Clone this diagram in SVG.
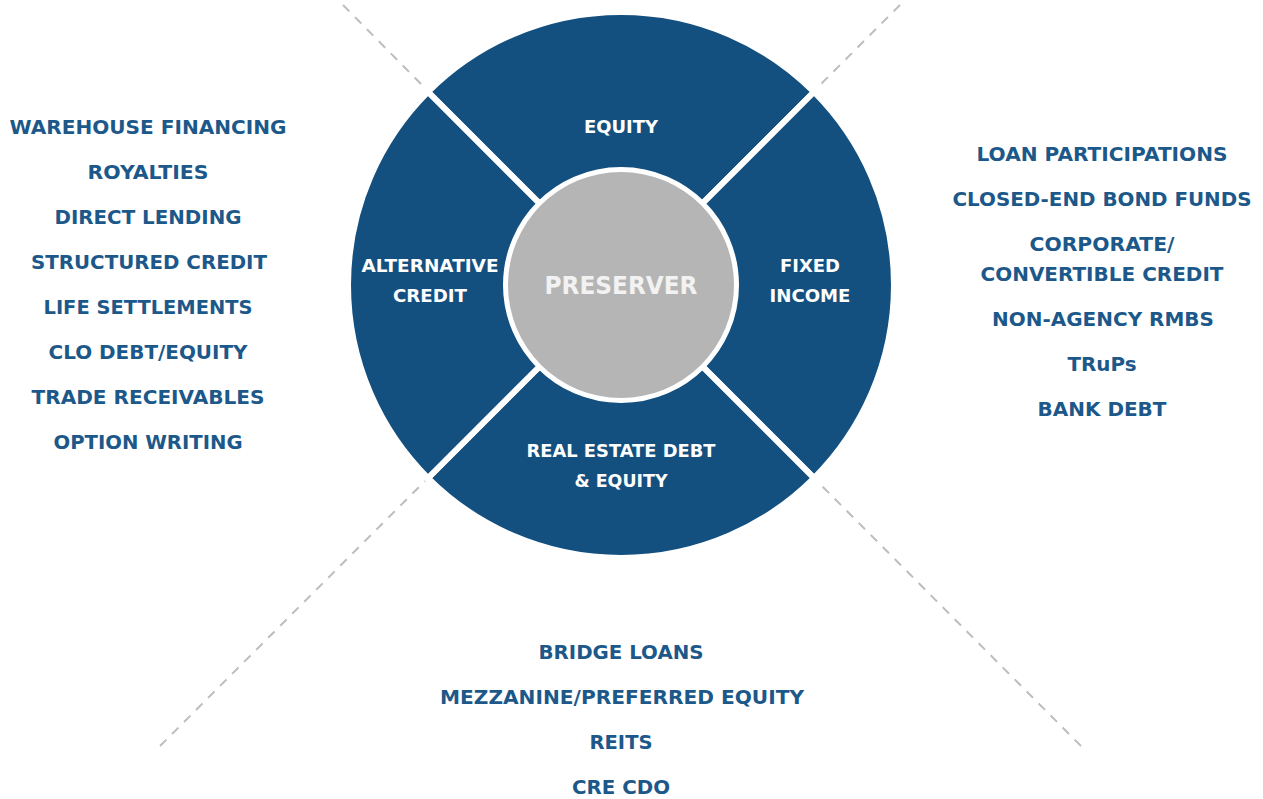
<svg xmlns="http://www.w3.org/2000/svg" width="1263" height="799" viewBox="0 0 1263 799">
<style>
.seg{fill:#14507f;stroke:#ffffff;stroke-width:6;stroke-linejoin:miter}
.in{font-family:"DejaVu Sans","Liberation Sans",sans-serif;font-weight:bold;font-size:17px;fill:#ffffff;text-anchor:middle}
.li{font-family:"DejaVu Sans","Liberation Sans",sans-serif;font-weight:bold;font-size:19.5px;fill:#1c5889;text-anchor:middle}
.dash{stroke:#bdbdbd;stroke-width:2;stroke-dasharray:9 8;fill:none}
</style>
<rect width="1263" height="799" fill="#ffffff"/>
<g id="connectors">
<line class="dash" x1="343" y1="5" x2="425" y2="88"/>
<line class="dash" x1="900" y1="5" x2="817" y2="88"/>
<line class="dash" x1="160" y1="746" x2="425" y2="481"/>
<line class="dash" x1="1081" y1="746" x2="817" y2="481"/>
</g>
<g id="equity">
<path class="seg" d="M427.96 91.96 A273 273 0 0 1 814.04 91.96 L702.32 203.68 A115 115 0 0 0 539.68 203.68 Z"/>
<text class="in" x="621" y="133" textLength="74" lengthAdjust="spacingAndGlyphs">EQUITY</text>
</g>
<g id="fixed-income">
<path class="seg" d="M814.04 91.96 A273 273 0 0 1 814.04 478.04 L702.32 366.32 A115 115 0 0 0 702.32 203.68 Z"/>
<text class="in" x="810" y="272" textLength="60" lengthAdjust="spacingAndGlyphs">FIXED</text>
<text class="in" x="810" y="302" textLength="81" lengthAdjust="spacingAndGlyphs">INCOME</text>
</g>
<g id="real-estate">
<path class="seg" d="M814.04 478.04 A273 273 0 0 1 427.96 478.04 L539.68 366.32 A115 115 0 0 0 702.32 366.32 Z"/>
<text class="in" x="621" y="457" textLength="189" lengthAdjust="spacingAndGlyphs">REAL ESTATE DEBT</text>
<text class="in" x="621" y="487" textLength="93" lengthAdjust="spacingAndGlyphs">&amp; EQUITY</text>
</g>
<g id="alternative-credit">
<path class="seg" d="M427.96 478.04 A273 273 0 0 1 427.96 91.96 L539.68 203.68 A115 115 0 0 0 539.68 366.32 Z"/>
<text class="in" x="430" y="272" textLength="137" lengthAdjust="spacingAndGlyphs">ALTERNATIVE</text>
<text class="in" x="430" y="302" textLength="74" lengthAdjust="spacingAndGlyphs">CREDIT</text>
</g>
<g id="preserver">
<circle cx="621" cy="285" r="113" fill="#b5b5b5"/>
<text x="621" y="294" font-family="DejaVu Sans, Liberation Sans, sans-serif" font-weight="bold" font-size="24" fill="#f2f2f2" text-anchor="middle" textLength="153" lengthAdjust="spacingAndGlyphs">PRESERVER</text>
</g>
<g id="alt-list">
<text class="li" x="148" y="134" textLength="277" lengthAdjust="spacingAndGlyphs">WAREHOUSE FINANCING</text>
<text class="li" x="148" y="179" textLength="121" lengthAdjust="spacingAndGlyphs">ROYALTIES</text>
<text class="li" x="148" y="224" textLength="187" lengthAdjust="spacingAndGlyphs">DIRECT LENDING</text>
<text class="li" x="149" y="269" textLength="236" lengthAdjust="spacingAndGlyphs">STRUCTURED CREDIT</text>
<text class="li" x="148" y="314" textLength="209" lengthAdjust="spacingAndGlyphs">LIFE SETTLEMENTS</text>
<text class="li" x="148" y="359" textLength="199" lengthAdjust="spacingAndGlyphs">CLO DEBT/EQUITY</text>
<text class="li" x="148" y="404" textLength="233" lengthAdjust="spacingAndGlyphs">TRADE RECEIVABLES</text>
<text class="li" x="148" y="449" textLength="189" lengthAdjust="spacingAndGlyphs">OPTION WRITING</text>
</g>
<g id="fixed-list">
<text class="li" x="1102" y="161" textLength="251" lengthAdjust="spacingAndGlyphs">LOAN PARTICIPATIONS</text>
<text class="li" x="1102" y="206" textLength="299" lengthAdjust="spacingAndGlyphs">CLOSED-END BOND FUNDS</text>
<text class="li" x="1102" y="251" textLength="145" lengthAdjust="spacingAndGlyphs">CORPORATE/</text>
<text class="li" x="1102" y="281" textLength="243" lengthAdjust="spacingAndGlyphs">CONVERTIBLE CREDIT</text>
<text class="li" x="1103" y="326" textLength="222" lengthAdjust="spacingAndGlyphs">NON-AGENCY RMBS</text>
<text class="li" x="1102" y="371" textLength="69" lengthAdjust="spacingAndGlyphs">TRuPs</text>
<text class="li" x="1102" y="416" textLength="129" lengthAdjust="spacingAndGlyphs">BANK DEBT</text>
</g>
<g id="real-estate-list">
<text class="li" x="621" y="659" textLength="165" lengthAdjust="spacingAndGlyphs">BRIDGE LOANS</text>
<text class="li" x="622" y="704" textLength="364" lengthAdjust="spacingAndGlyphs">MEZZANINE/PREFERRED EQUITY</text>
<text class="li" x="621" y="749" textLength="63" lengthAdjust="spacingAndGlyphs">REITS</text>
<text class="li" x="621" y="794" textLength="98" lengthAdjust="spacingAndGlyphs">CRE CDO</text>
</g>
</svg>
